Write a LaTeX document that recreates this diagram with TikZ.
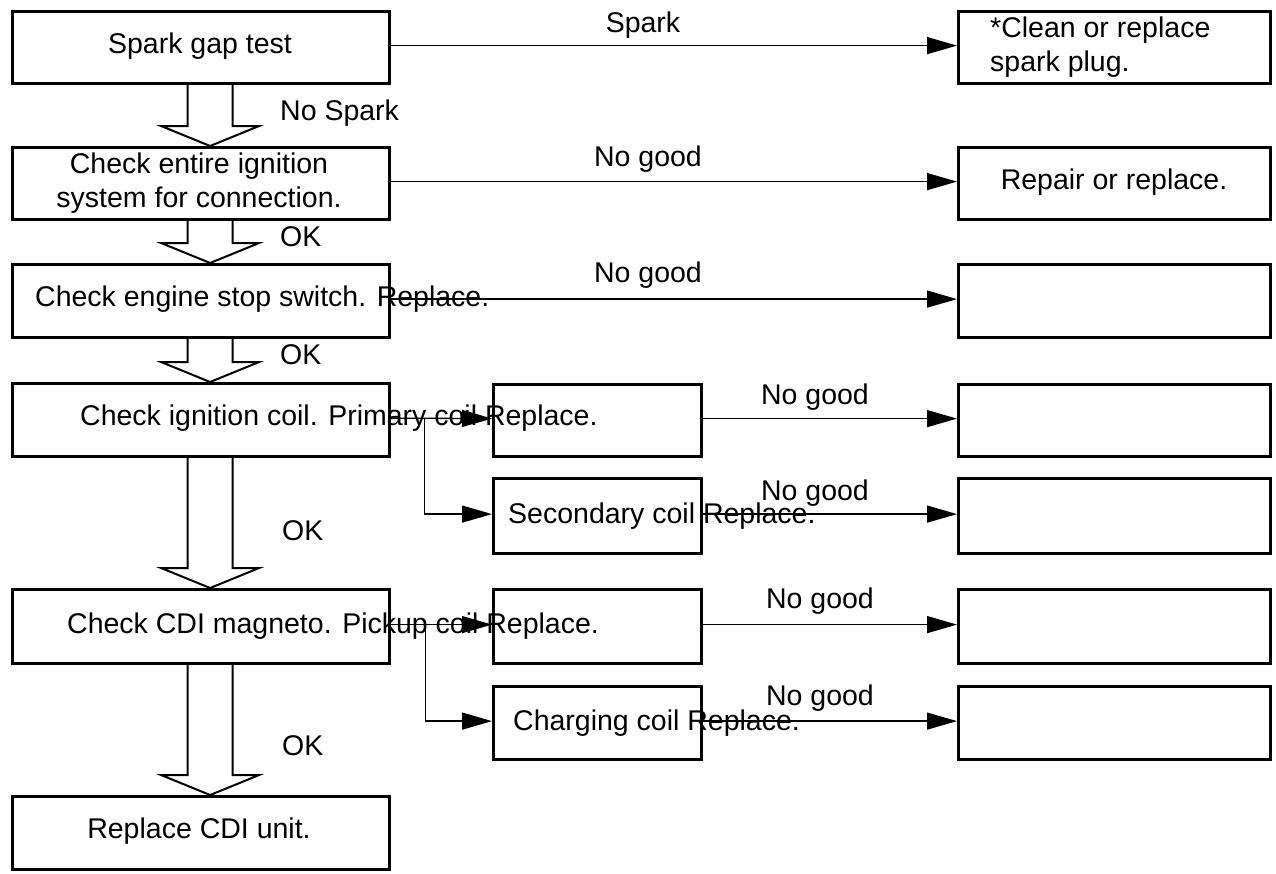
\documentclass[tikz,border=0pt]{standalone}
\usepackage{fontspec}
\setmainfont{Liberation Sans}
\usetikzlibrary{arrows.meta,calc}
\tikzset{
  box/.style={draw, line width=3.2pt, inner sep=0pt, anchor=north west},
  conn/.style={line width=1.3pt, -{Triangle[length=30pt,width=17pt]}, transform canvas={yshift=2pt}},
  hollow/.style={line width=2pt, line join=miter},
  txt/.style={inner sep=0pt, font=\fontsize{28.5}{34}\selectfont},
}
\newcommand{\harrow}[2]{%
  \draw[hollow] let \p1=(#1.south), \p2=(#2.north) in
    (\x1+9pt-22.5pt,\y1) -- (\x1+9pt-22.5pt,\y2+20pt) -- (\x1+9pt-49pt,\y2+20pt)
    -- (\x1+9pt,\y2) -- (\x1+9pt+49pt,\y2+20pt) -- (\x1+9pt+22.5pt,\y2+20pt)
    -- (\x1+9pt+22.5pt,\y1);}
\begin{document}
\begin{tikzpicture}[x=1pt,y=-1pt]
\useasboundingbox (0,0) rectangle (1276,873);
% left column
\node[box, minimum width=377pt, minimum height=72pt] (b1) at (11,10) {};
\node[box, minimum width=377pt, minimum height=72pt] (b2) at (11,146) {};
\node[box, minimum width=377pt, minimum height=73pt] (b3) at (11,263) {};
\node[box, minimum width=377pt, minimum height=73pt] (b4) at (11,382) {};
\node[box, minimum width=377pt, minimum height=74pt] (b5) at (11,588) {};
\node[box, minimum width=377pt, minimum height=73pt] (b6) at (11,795) {};
% middle column
\node[box, minimum width=208pt, minimum height=72pt] (m1) at (492,383) {};
\node[box, minimum width=208pt, minimum height=75pt] (m2) at (492,477) {};
\node[box, minimum width=208pt, minimum height=74pt] (m3) at (492,588) {};
\node[box, minimum width=208pt, minimum height=73pt] (m4) at (492,685) {};
% right column
\node[box, minimum width=312pt, minimum height=72pt] (r1) at (957,10) {};
\node[box, minimum width=312pt, minimum height=72pt] (r2) at (957,146) {};
\node[box, minimum width=312pt, minimum height=73pt] (r3) at (957,263) {};
\node[box, minimum width=312pt, minimum height=72pt] (r4) at (957,383) {};
\node[box, minimum width=312pt, minimum height=75pt] (r5) at (957,477) {};
\node[box, minimum width=312pt, minimum height=74pt] (r6) at (957,588) {};
\node[box, minimum width=312pt, minimum height=73pt] (r7) at (957,685) {};
% hollow arrows
\harrow{b1}{b2}
\harrow{b2}{b3}
\harrow{b3}{b4}
\harrow{b4}{b5}
\harrow{b5}{b6}
% connectors
\draw[conn] (b1.east) -- (r1.west);
\draw[conn] (b2.east) -- (r2.west);
\draw[conn] (b3.east) -- (r3.west);
\draw[conn] (b4.east) -- (m1.west);
\coordinate (j4) at ($(b4.east)+(33,0)$);
\draw[conn] (j4) |- (m2.west);
\draw[conn] (m1.east) -- (r4.west);
\draw[conn] (m2.east) -- (r5.west);
\draw[conn] (b5.east) -- (m3.west);
\coordinate (j5) at ($(b5.east)+(34,0)$);
\draw[conn] (j5) |- (m4.west);
\draw[conn] (m3.east) -- (r6.west);
\draw[conn] (m4.east) -- (r7.west);
% texts
\node[txt, anchor=base] (t1) at (200,53) {Spark gap test};
\node[txt, anchor=base] (l1) at (643,32) {Spark};
\node[txt, anchor=base west] (t2a) at (990,37) {*Clean or replace};
\node[txt, anchor=base west] (t2b) at (990,71) {spark plug.};
\node[txt, anchor=base west] (l2) at (280,120) {No Spark};
\node[txt, anchor=base] (t3a) at (199,173) {Check entire ignition};
\node[txt, anchor=base] (t3b) at (199,207) {system for connection.};
\node[txt, anchor=base] (l3) at (648,166) {No good};
\node[txt, anchor=base] (t4) at (1114,189) {Repair or replace.};
\node[txt, anchor=base west] (l4) at (280,246) {OK};
\node[txt, anchor=base west] (t5) at (35,306) {Check engine stop switch. Replace.};
\node[txt, anchor=base] (l5) at (648,282) {No good};
\node[txt, anchor=base west] (l6) at (280,364) {OK};
\node[txt, anchor=base west] (t6) at (80,425) {Check ignition coil. Primary coil Replace.};
\node[txt, anchor=base] (l7) at (815,404) {No good};
\node[txt, anchor=base west] (t7) at (508,523) {Secondary coil Replace.};
\node[txt, anchor=base] (l8) at (815,500) {No good};
\node[txt, anchor=base west] (l9) at (282,540) {OK};
\node[txt, anchor=base west] (t8) at (67,633) {Check CDI magneto. Pickup coil Replace.};
\node[txt, anchor=base] (l10) at (820,608) {No good};
\node[txt, anchor=base west] (t9) at (513,730) {Charging coil Replace.};
\node[txt, anchor=base] (l11) at (820,705) {No good};
\node[txt, anchor=base west] (l12) at (282,755) {OK};
\node[txt, anchor=base] (t10) at (199,838) {Replace CDI unit.};
\end{tikzpicture}
\end{document}
